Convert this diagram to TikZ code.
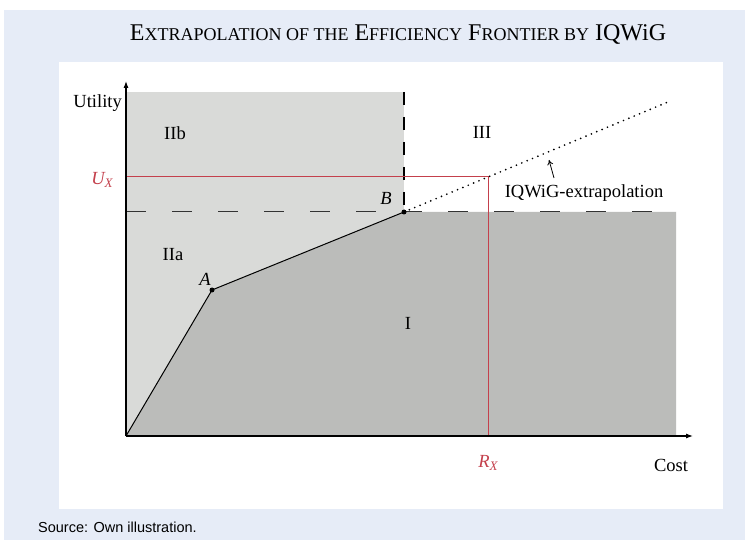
\documentclass[tikz,border=0pt]{standalone}
\usepackage{fontspec}
\setmainfont{Liberation Serif}
\newfontfamily\srcfont{Liberation Sans}
\usetikzlibrary{arrows.meta}
\definecolor{bgblue}{RGB}{230,236,247}
\definecolor{lightgr}{RGB}{217,218,216}
\definecolor{darkgr}{RGB}{187,188,186}
\definecolor{redx}{RGB}{196,64,76}
\newcommand\mysc[1]{{\fontsize{18}{20}\selectfont #1}}
\newcommand\varsub[2]{{\itshape #1\raisebox{-0.4ex}{\fontsize{13}{13}\selectfont\itshape #2}}}
\tikzset{
  lbl/.style={font=\fontsize{18.5}{20}\selectfont, inner sep=0pt},
  ital/.style={lbl, font=\fontsize{18.5}{20}\selectfont\itshape},
  axis/.style={line width=1.1pt, -{Latex[length=7pt,width=5pt]}},
  frontier/.style={line width=1pt},
  dashh/.style={line width=1pt, black!80, dash pattern=on 20pt off 26pt},
  dashv/.style={line width=1.1pt, dash pattern=on 13pt off 12pt},
  redline/.style={redx, line width=0.8pt},
  dotline/.style={line width=1.9pt, line cap=round, dash pattern=on 0pt off 5.8pt},
  pt/.style={circle, fill=black, inner sep=0pt, minimum size=5pt}
}
\begin{document}
\begin{tikzpicture}[x=1pt,y=-1pt]
\useasboundingbox (0,0) rectangle (753,540);
\fill[bgblue] (4,10) rectangle (745,540);
\fill[white] (59,62) rectangle (723,509);
\node[inner sep=0pt] (title) at (398,35) {\fontsize{24}{26}\selectfont E\mysc{XTRAPOLATION OF THE} E\mysc{FFICIENCY} F\mysc{RONTIER BY} IQWiG};
\node[anchor=west, inner sep=0pt, font=\srcfont\fontsize{14.5}{16}\selectfont] (src) at (38,527) {Source: Own illustration.};

\coordinate (O) at (126,436);
\coordinate (A) at (212,290);
\coordinate (B) at (404,212);
\coordinate (BR) at (676,212);
\coordinate (OR) at (676,436);
\coordinate (TL) at (126,92);
\coordinate (TB) at (404,92);
\coordinate (UL) at (126,176);
\coordinate (UR) at (488,176);
\coordinate (RB) at (488,436);
\coordinate (DE) at (668,102);
\coordinate (XE) at (693,436);
\coordinate (YE) at (126,81);

\fill[lightgr] (TL) rectangle (B |- O);
\fill[darkgr] (O) -- (A) -- (B) -- (BR) -- (OR) -- cycle;

\draw[dashv] (TB) -- (B);
\draw[dashh] (O |- B) -- (BR);
\draw[redline] (UL) -- (UR) -- (RB);
\draw[dotline] (B) -- (DE);
\draw[frontier] (O) -- (A) -- (B);
\draw[axis] (O) -- (XE);
\draw[axis] (O) -- (YE);
\node[pt] (pA) at (A) {};
\node[pt] (pB) at (B) {};

\node[lbl, anchor=east] (util) at (122,103) {Utility};
\node[lbl] (IIb) at (175,133) {IIb};
\node[lbl] (III) at (482,132) {III};
\node[lbl] (IIa) at (173,255) {IIa};
\node[lbl] (I) at (408,323) {I};
\node[ital] (lA) at (205,279) {A};
\node[ital] (lB) at (386,198) {B};
\node[lbl] (cost) at (671,465) {Cost};
\node[lbl, text=redx] (ux) at (102,180) {\varsub{U}{X}};
\node[lbl, text=redx] (rx) at (488,463) {\varsub{R}{X}};
\node[lbl] (ext) at (584,193) {IQWiG-extrapolation};
\coordinate (ET) at (549,160);
\draw[line width=0.8pt, -{To[length=5pt,width=6pt]}] (554,178) -- (ET);
\end{tikzpicture}
\end{document}
